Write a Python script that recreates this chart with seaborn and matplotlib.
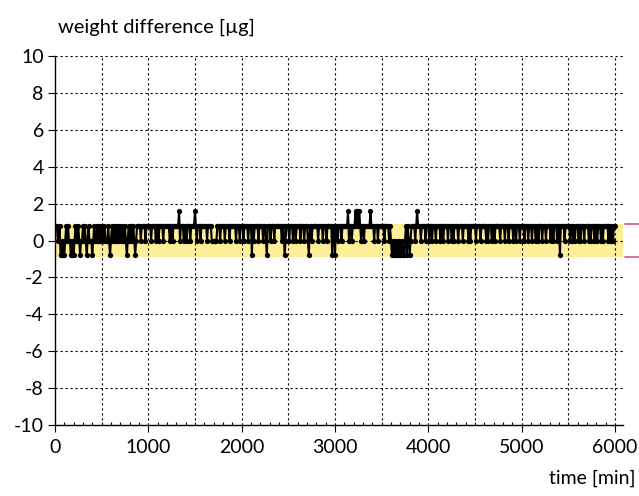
import numpy as np
import pandas as pd
import matplotlib
matplotlib.use("Agg")
import matplotlib.pyplot as plt
import matplotlib.transforms as mtransforms
from matplotlib.ticker import MultipleLocator
import seaborn as sns

# ---- data ----
# one character per 10-minute sample: '1' = +0.8, '0' = 0, 'n' = -0.8, '2' = +1.6
levels = {"1": 0.8, "0": 0.0, "n": -0.8, "2": 1.6}
blocks = [
    "111001nn0n", "n010100nn0", "n010010n00", "1010n01000", "n010010100",
    "100100010n", "0101001010", "1001010n01", "011010n011", "1101111011",
    "1110111101", "1011110111", "1110110111", "1112011101", "1011101111",
    "2101110111", "1110111100", "0000111011", "1101111011", "1111011101",
    "1101111011", "1n10111101", "1110110n11", "1011101111", "111011n011",
    "1011101101", "1110111011", "10n1101111", "1101111011", "1011111n11",
    "n110111011", "1111201101", "1121212101", "1011111121", "1101110111",
    "1110111101", "0n0n0nn0n0", "nn0nn01n10", "n011110121", "1101111011",
    "1011011101", "1110110111", "1011101011", "1101111011", "1110101111",
    "1011110111", "1101011101", "1011111011", "1101110111", "1011011101",
    "1110111011", "1011101101", "1101110111", "1011011101", "1n11110111",
    "1101101011", "1010111011", "1101011101", "1011101011", "1110110101",
    "1",
]
codes = "".join(blocks)
time_min = [10 * i for i in range(len(codes))]
weight_diff = [levels[c] for c in codes]

band_limit = 0.9
x_ticks = [0, 1000, 2000, 3000, 4000, 5000, 6000]
y_ticks = [-10, -8, -6, -4, -2, 0, 2, 4, 6, 8, 10]

df = pd.DataFrame({"time": time_min, "diff": weight_diff})

# ---- figure ----
sns.set_theme(style="white")
plt.rcParams["font.family"] = ["Lato", "DejaVu Sans"]
plt.rcParams["axes.unicode_minus"] = False

fig = plt.figure(figsize=(6.39, 4.96), dpi=100)
ax = fig.add_axes([0.086, 0.143, 0.889, 0.744])

ax.axhspan(-band_limit, band_limit, color="#FDEE98", zorder=0, lw=0)

sns.lineplot(data=df, x="time", y="diff", ax=ax, color="black", linewidth=1.5,
             marker="o", markersize=3.8, markeredgewidth=0, zorder=3)

ax.set_xlim(0, 6086)
ax.set_ylim(-10, 10)
ax.set_xticks(x_ticks)
ax.set_yticks(y_ticks)
ax.set_xticklabels([str(v) for v in x_ticks], fontsize=14)
ax.set_yticklabels([str(v) for v in y_ticks], fontsize=14)
ax.xaxis.set_minor_locator(MultipleLocator(100))

# grid: vertical every 500, horizontal every 2
for xv in range(500, 6001, 500):
    ax.axvline(xv, color="black", lw=0.8, ls=(0, (2, 2.5)), zorder=1)
for yv in y_ticks:
    if yv != -10:
        ax.axhline(yv, color="black", lw=0.8, ls=(0, (2, 2.5)), zorder=1)

for s in ["top", "right"]:
    ax.spines[s].set_visible(False)
for s in ["left", "bottom"]:
    ax.spines[s].set_color("black")
    ax.spines[s].set_linewidth(1.0)

ax.tick_params(axis="x", which="major", direction="out", length=5, width=0.8,
               colors="black", pad=5, bottom=True)
ax.tick_params(axis="x", which="minor", direction="in", length=2.5, width=0.8,
               colors="black", bottom=True)
ax.tick_params(axis="y", which="major", direction="out", length=5, width=0.8,
               colors="black", pad=3, left=True)
ax.set_xlabel("")
ax.set_ylabel("")

# tolerance markers outside the right edge
trans = mtransforms.blended_transform_factory(fig.transFigure, ax.transData)
for yv in (band_limit, -band_limit):
    ax.plot([0.978, 1.0], [yv, yv], color="#E0577A", lw=1.2,
            transform=trans, clip_on=False)

fig.text(0.090, 0.945, "weight difference [µg]", fontsize=14.5, ha="left",
         va="center", color="black")
fig.text(0.994, 0.035, "time [min]", fontsize=14, ha="right",
         va="center", color="black")

fig.savefig("out.png", dpi=100)
